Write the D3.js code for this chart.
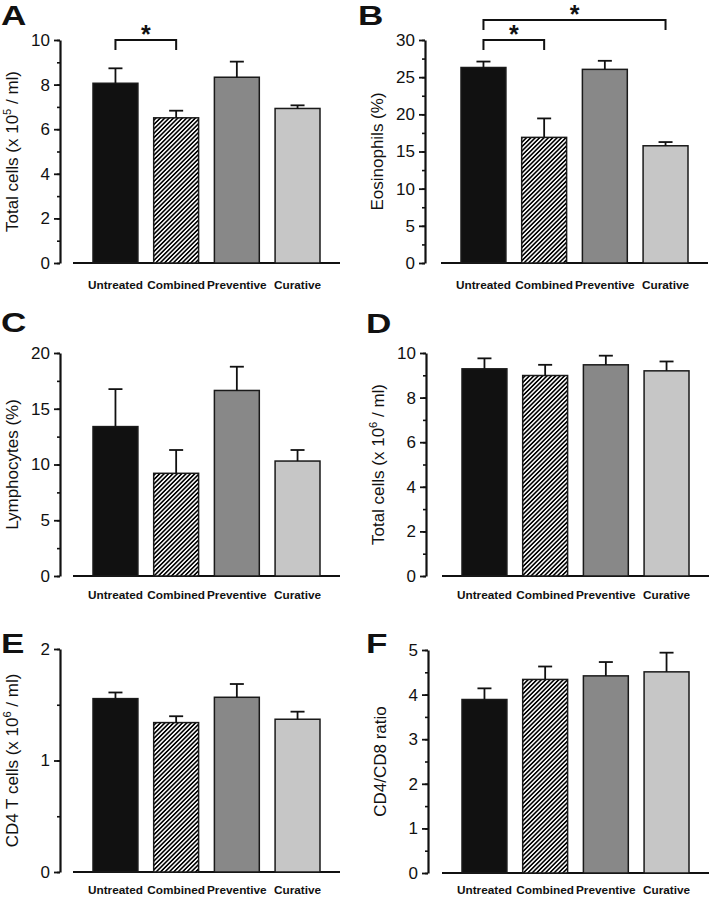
<!DOCTYPE html>
<html>
<head>
<meta charset="utf-8">
<script src="https://cdn.jsdelivr.net/npm/d3@7"></script>
<style>
  body { margin: 0; background: #fff; }
  svg { display: block; font-family: "Liberation Sans", Arial, sans-serif; }
</style>
</head>
<body>
<div id="chart"></div>
<script>
const categories = ["Untreated", "Combined", "Preventive", "Curative"];

const totalCellsBAL = [8.06, 6.51, 8.33, 6.93];
const totalCellsBALErr = [0.67, 0.32, 0.70, 0.14];

const eosinophils = [26.3, 16.9, 26.05, 15.77];
const eosinophilsErr = [0.8, 2.55, 1.15, 0.5];

const lymphocytes = [13.4, 9.21, 16.64, 10.31];
const lymphocytesErr = [3.36, 2.09, 2.13, 0.99];

const totalCellsLung = [9.29, 8.99, 9.47, 9.2];
const totalCellsLungErr = [0.47, 0.48, 0.41, 0.42];

const cd4Cells = [1.555, 1.34, 1.567, 1.37];
const cd4CellsErr = [0.055, 0.057, 0.119, 0.068];

const cd4cd8Ratio = [3.89, 4.34, 4.42, 4.51];
const cd4cd8RatioErr = [0.25, 0.29, 0.31, 0.43];

const bracketsA = [{ from: 0, to: 1, level: 10 }];
const bracketsB = [{ from: 0, to: 1, level: 30 }, { from: 0, to: 3, level: 32.7 }];

const fills = ["#111111", "url(#hatch)", "#888888", "#c6c6c6"];

const largura = 711, altura = 898;

const svg = d3.select("#chart").append("svg")
  .attr("width", largura)
  .attr("height", altura);

// hachura diagonal da barra "Combined"
const passo = 3.1;
const pat = svg.append("defs").append("pattern")
  .attr("id", "hatch")
  .attr("patternUnits", "userSpaceOnUse")
  .attr("width", passo)
  .attr("height", passo)
  .attr("patternTransform", "rotate(45)");
pat.append("rect").attr("width", passo).attr("height", passo).attr("fill", "#fff");
pat.append("line")
  .attr("x1", passo / 2).attr("y1", 0).attr("x2", passo / 2).attr("y2", passo)
  .attr("stroke", "#000").attr("stroke-width", 1.6);

function painel(cfg) {
  const g = svg.append("g");

  const y = d3.scaleLinear().domain([0, cfg.max]).range([cfg.bottom, cfg.top]);
  const x = d3.scaleBand().domain(categories)
    .range([cfg.barsStart, cfg.barsStart + 227])
    .paddingInner(0.26).paddingOuter(0);

  // ticks menores
  const minor = d3.range(0, cfg.max + 1e-9, cfg.minorStep);
  g.append("g")
    .attr("transform", `translate(${cfg.axisX},0)`)
    .call(d3.axisLeft(y).tickValues(minor).tickSize(3).tickFormat(""))
    .call(s => s.select(".domain").remove())
    .call(s => s.selectAll("line").attr("stroke", "#111").attr("stroke-width", 1.6));

  // eixo y
  const ticks = d3.range(0, cfg.max + 1e-9, cfg.step);
  g.append("g")
    .attr("transform", `translate(${cfg.axisX},0)`)
    .call(d3.axisLeft(y).tickValues(ticks).tickSize(6).tickSizeOuter(0).tickPadding(4)
      .tickFormat(d3.format("~g")))
    .call(s => s.select(".domain").attr("stroke", "#111").attr("stroke-width", 2.2))
    .call(s => s.selectAll("line").attr("stroke", "#111").attr("stroke-width", 1.8))
    .call(s => s.selectAll("text")
      .attr("font-size", "17px")
      .attr("fill", "#111")
      .attr("font-family", "'Liberation Sans', Arial, sans-serif"));

  // linha do eixo x
  g.append("line")
    .attr("x1", x.range()[0] - 20).attr("x2", x.range()[1] + 20)
    .attr("y1", y(0)).attr("y2", y(0))
    .attr("stroke", "#111").attr("stroke-width", 2.2);

  // barras
  g.selectAll("rect.bar")
    .data(cfg.values)
    .enter()
    .append("rect")
    .attr("class", "bar")
    .attr("x", (d, i) => x(categories[i]))
    .attr("y", d => y(d))
    .attr("width", x.bandwidth())
    .attr("height", d => y(0) - y(d))
    .attr("fill", (d, i) => fills[i])
    .attr("stroke", "#1a1a1a")
    .attr("stroke-width", 1.5);

  // barras de erro (só para cima)
  const cx = i => x(categories[i]) + x.bandwidth() / 2;
  cfg.values.forEach((v, i) => {
    const top = y(v + cfg.errors[i]);
    g.append("line")
      .attr("x1", cx(i)).attr("x2", cx(i))
      .attr("y1", y(v)).attr("y2", top)
      .attr("stroke", "#111").attr("stroke-width", 1.8);
    g.append("line")
      .attr("x1", cx(i) - 7).attr("x2", cx(i) + 7)
      .attr("y1", top).attr("y2", top)
      .attr("stroke", "#111").attr("stroke-width", 1.8);
  });

  // rótulos das categorias
  g.selectAll("text.cat")
    .data(categories)
    .enter()
    .append("text")
    .attr("class", "cat")
    .attr("x", (d, i) => cx(i))
    .attr("y", y(0) + cfg.labelOffset)
    .attr("text-anchor", "middle")
    .attr("font-size", "11.8px")
    .attr("font-weight", "bold")
    .attr("fill", "#111")
    .text(d => d);

  // título do eixo y
  const t = g.append("text")
    .attr("transform", `translate(${cfg.axisX - 48},${(cfg.top + cfg.bottom) / 2}) rotate(-90)`)
    .attr("text-anchor", "middle")
    .attr("dy", "0.35em")
    .attr("font-size", "17px")
    .attr("fill", "#111");
  cfg.title.forEach(p => {
    const ts = t.append("tspan").text(p.text);
    if (p.sup) ts.attr("font-size", "11px").attr("dy", "-0.6em");
    if (p.after) ts.attr("dy", "0.38em");
  });

  // letra do painel
  g.append("text")
    .attr("transform", `translate(${cfg.letterX},${cfg.letterY}) scale(1.3,1)`)
    .attr("font-size", "27px")
    .attr("font-weight", "bold")
    .attr("fill", "#111")
    .text(cfg.letter);

  // colchetes de significância
  (cfg.brackets || []).forEach(b => {
    const yy = y(b.level);
    const x1 = cx(b.from), x2 = cx(b.to);
    g.append("path")
      .attr("d", `M${x1},${yy + 10}V${yy}H${x2}V${yy + 10}`)
      .attr("fill", "none")
      .attr("stroke", "#111")
      .attr("stroke-width", 2);
    g.append("text")
      .attr("x", (x1 + x2) / 2)
      .attr("y", yy + 3)
      .attr("text-anchor", "middle")
      .attr("font-size", "25px")
      .attr("font-weight", "bold")
      .attr("fill", "#111")
      .text("*");
  });
}

const esq = { axisX: 60, barsStart: 93 };
const dir = { axisX: 425, barsStart: 461 };

painel({
  ...esq, letter: "A", letterX: 1, letterY: 25,
  top: 40, bottom: 263, max: 10, step: 2, minorStep: 1, labelOffset: 26,
  values: totalCellsBAL, errors: totalCellsBALErr, brackets: bracketsA,
  title: [{ text: "Total cells (x 10" }, { text: "5", sup: true }, { text: " / ml)", after: true }]
});

painel({
  ...dir, letter: "B", letterX: 358, letterY: 25,
  top: 40, bottom: 263, max: 30, step: 5, minorStep: 2.5, labelOffset: 26,
  values: eosinophils, errors: eosinophilsErr, brackets: bracketsB,
  title: [{ text: "Eosinophils (%)" }]
});

painel({
  ...esq, letter: "C", letterX: 1, letterY: 332,
  top: 353, bottom: 576, max: 20, step: 5, minorStep: 2.5, labelOffset: 23,
  values: lymphocytes, errors: lymphocytesErr,
  title: [{ text: "Lymphocytes (%)" }]
});

painel({
  ...dir, axisX: 426, barsStart: 462, letter: "D", letterX: 366, letterY: 333,
  top: 353, bottom: 576, max: 10, step: 2, minorStep: 1, labelOffset: 23,
  values: totalCellsLung, errors: totalCellsLungErr,
  title: [{ text: "Total cells (x 10" }, { text: "6", sup: true }, { text: " / ml)", after: true }]
});

painel({
  ...esq, letter: "E", letterX: 1, letterY: 653,
  top: 649, bottom: 872, max: 2, step: 1, minorStep: 0.5, labelOffset: 22,
  values: cd4Cells, errors: cd4CellsErr,
  title: [{ text: "CD4 T cells (x 10" }, { text: "6", sup: true }, { text: " / ml)", after: true }]
});

painel({
  ...dir, axisX: 428, barsStart: 462, letter: "F", letterX: 366, letterY: 653,
  top: 650, bottom: 873, max: 5, step: 1, minorStep: 0.5, labelOffset: 21,
  values: cd4cd8Ratio, errors: cd4cd8RatioErr,
  title: [{ text: "CD4/CD8 ratio" }]
});
</script>
</body>
</html>
